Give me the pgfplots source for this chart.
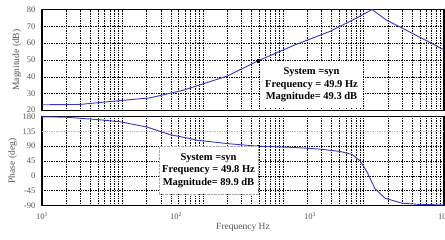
\documentclass[border=0pt]{standalone}
\usepackage{pgfplots}
\pgfplotsset{compat=1.18}
\usepackage{fontspec}
\setmainfont{Liberation Serif}
\definecolor{curve}{RGB}{55,55,200}
\definecolor{ticktext}{RGB}{85,85,85}
\begin{document}
\begin{tikzpicture}
\useasboundingbox (0pt,0pt) rectangle (445pt,240pt);
\begin{axis}[scale only axis, width=402pt, xmode=log, xmin=10, xmax=1000000,
    xtick={10,100,1000,10000,100000,1000000}, xticklabels={},
    grid=both,
    major grid style={black, line width=0.5pt, dash pattern=on 0.8pt off 0.9pt},
    minor grid style={black, line width=0.5pt, dash pattern=on 0.8pt off 0.9pt},
    major tick length=0pt, minor tick length=0pt,
    axis line style={line width=1.8pt},
    tick label style={font=\fontsize{8.5}{10}\selectfont, text=ticktext},
    yticklabel style={xshift=-3pt},
    /pgf/number format/assume math mode=true,
    label style={font=\fontsize{9.5}{10}\selectfont, text=ticktext},
  at={(42pt,129.5pt)}, anchor=south west, height=101pt,
  ymin=20, ymax=80, ytick={20,30,40,50,60,70,80},
  yticklabels={\raisebox{2pt}{20},30,40,50,60,70,80},
  ylabel={Magnitude (dB)}, ylabel style={yshift=-1pt}]
\addplot[curve, line width=0.9pt] coordinates {
(10,23.4) (29.7,23.6) (98.9,26) (220,27.5) (567,32) (2000,40.4) (4864,49.5)
(14030,59) (38200,67) (58750,71.5) (90200,76) (127000,80) (195400,73.5)
(300600,69) (632600,61) (1000000,56)};
\addplot[only marks, mark=square*, mark size=1.3pt, black] coordinates {(4864,49.5)};
\end{axis}
\begin{axis}[scale only axis, width=402pt, xmode=log, xmin=10, xmax=1000000,
    xtick={10,100,1000,10000,100000,1000000}, xticklabels={},
    grid=both,
    major grid style={black, line width=0.5pt, dash pattern=on 0.8pt off 0.9pt},
    minor grid style={black, line width=0.5pt, dash pattern=on 0.8pt off 0.9pt},
    major tick length=0pt, minor tick length=0pt,
    axis line style={line width=1.8pt},
    tick label style={font=\fontsize{8.5}{10}\selectfont, text=ticktext},
    yticklabel style={xshift=-3pt},
    /pgf/number format/assume math mode=true,
    label style={font=\fontsize{9.5}{10}\selectfont, text=ticktext},
  at={(42pt,34.5pt)}, anchor=south west, height=89pt,
  ymin=-90, ymax=180, ytick={-90,-45,0,45,90,180},
  yticklabels={-90,-45,0,45,90,\raisebox{-2pt}{180}},
  extra y ticks={135}, extra y tick labels={135},
  extra y tick style={major grid style={gray!55, line width=0.5pt, dash pattern=on 0.8pt off 0.9pt}},
  extra x ticks={10,464.16,21544.3,1000000},
  extra x tick labels={10\textsuperscript{1},10\textsuperscript{2},10\textsuperscript{3},10\textsuperscript{4}},
  extra x tick style={grid=none, major tick length=0pt, xticklabel style={yshift=-4pt}},
  xlabel={Frequency Hz}, xlabel style={yshift=3pt},
  ylabel={Phase (deg)}, ylabel style={yshift=-1pt}]
\addplot[curve, line width=0.9pt] coordinates {
(10,179) (19.3,178) (52.6,170) (93.3,164) (202,148) (220,145) (391,125)
(693,113) (847,108) (2178,97) (4864,90) (14030,86) (28700,81) (50840,74)
(71730,65) (90200,46) (110200,12) (138600,-39) (184600,-68) (300600,-83)
(502700,-87) (1000000,-88)};
\addplot[only marks, mark=square*, mark size=1.3pt, black] coordinates {(4864,90)};
\end{axis}
\node[fill=white, minimum width=103pt, minimum height=46pt, inner sep=0pt, align=center,
  font=\fontsize{10.5}{12.5}\selectfont\bfseries] at (311.5pt,155pt)
  {System =syn\\Frequency = 49.9 Hz\\Magnitude= 49.3 dB};
\node[fill=white, draw=gray!70, densely dotted, minimum width=99pt, minimum height=48pt, inner sep=0pt, align=center,
  font=\fontsize{10.5}{12.5}\selectfont\bfseries] at (208.5pt,69.5pt)
  {System =syn\\Frequency = 49.8 Hz\\Magnitude= 89.9 dB};
\end{tikzpicture}
\end{document}
